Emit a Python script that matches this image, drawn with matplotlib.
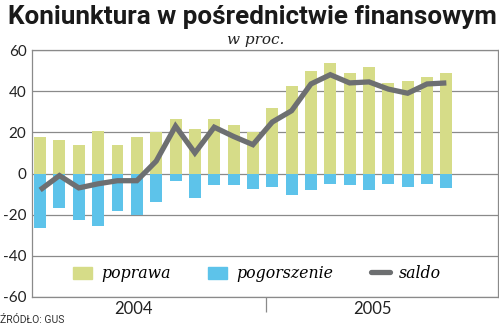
import numpy as np
import matplotlib.pyplot as plt
from matplotlib.lines import Line2D
from matplotlib.patches import Patch

plt.rcParams['axes.unicode_minus'] = False

# dane miesieczne: styczen 2004 - pazdziernik 2005
poprawa = [17.5, 16.5, 14, 20.5, 14, 17.5, 20, 26.5, 21.5, 26.5, 23.5, 20,
           32, 42.5, 50, 53.5, 49, 51.5, 44, 45, 47, 49]
pogorszenie = [-26.5, -17, -22.5, -25.5, -18, -20, -14, -3.5, -12, -5.5, -5.5, -7.5,
               -6.5, -10.5, -8, -5, -5.5, -8, -5, -6.5, -5, -7]
saldo = [-8, -1, -7, -5, -3.5, -3.5, 6, 23, 10, 22.5, 18, 14,
         25, 30.5, 43.5, 48, 44, 44.5, 41, 39, 43.5, 44]
lata = ['2004', '2005']
yticks = [60, 40, 20, 0, -20, -40, -60]

c_poprawa = '#d6dc88'
c_pogorszenie = '#5dc3ea'
c_saldo = '#6d6f71'
c_siatka = '#8a8a8a'

fig = plt.figure(figsize=(4.99, 3.27), dpi=100)
ax = fig.add_axes([32/499, 1 - 297/327, 466/499, 247/327])

x = np.arange(len(poprawa))
ax.bar(x, poprawa, width=0.62, color=c_poprawa, zorder=2)
ax.bar(x, pogorszenie, width=0.62, color=c_pogorszenie, zorder=2)
ax.plot(x, saldo, color=c_saldo, lw=3.8, solid_capstyle='butt', solid_joinstyle='miter', zorder=4)

ax.set_xlim(-0.42, 23.67)
ax.set_ylim(-60, 60)
ax.set_yticks(yticks)
ax.set_yticklabels([str(v) for v in yticks], fontsize=11, color='#222222', family='Lato')
ax.tick_params(axis='y', length=0, pad=4)
ax.grid(axis='y', color=c_siatka, lw=0.9, zorder=1)
for s in ax.spines.values():
    s.set_color(c_siatka)
    s.set_linewidth(0.9)

ax.set_xticks([4.8, 17.2])
ax.set_xticklabels(lata, fontsize=12, color='#222222', family='Lato')
ax.tick_params(axis='x', length=0, pad=3)
ax.set_xticks([11.7], minor=True)
ax.tick_params(axis='x', which='minor', length=11, width=0.9, color=c_siatka)

uchwyty = [Patch(color=c_poprawa), Patch(color=c_pogorszenie),
           Line2D([0], [0], color=c_saldo, lw=3.8, solid_capstyle='round')]
ax.legend(uchwyty, ['poprawa', 'pogorszenie', 'saldo'], ncol=3, frameon=False,
          loc='center', bbox_to_anchor=(0.483, 0.095), handlelength=1.2, handleheight=0.8,
          columnspacing=2.4, handletextpad=0.6,
          prop={'family': 'DejaVu Serif', 'style': 'italic', 'size': 11.3})

fig.text(8/499, 1 - 17/327, 'Koniunktura w pośrednictwie finansowym', fontsize=18.7,
         fontweight='bold', family='Roboto', va='center', ha='left', color='#1a1a1a')
fig.text(256/499, 1 - 40/327, 'w proc.', fontsize=11, family='DejaVu Serif',
         style='italic', va='center', ha='center', color='#222222')
fig.text(0, 1 - 320/327, 'ŹRÓDŁO: GUS', fontsize=7.5, family='Roboto',
         va='center', ha='left', color='#333333')

fig.savefig('out.png', dpi=100)
